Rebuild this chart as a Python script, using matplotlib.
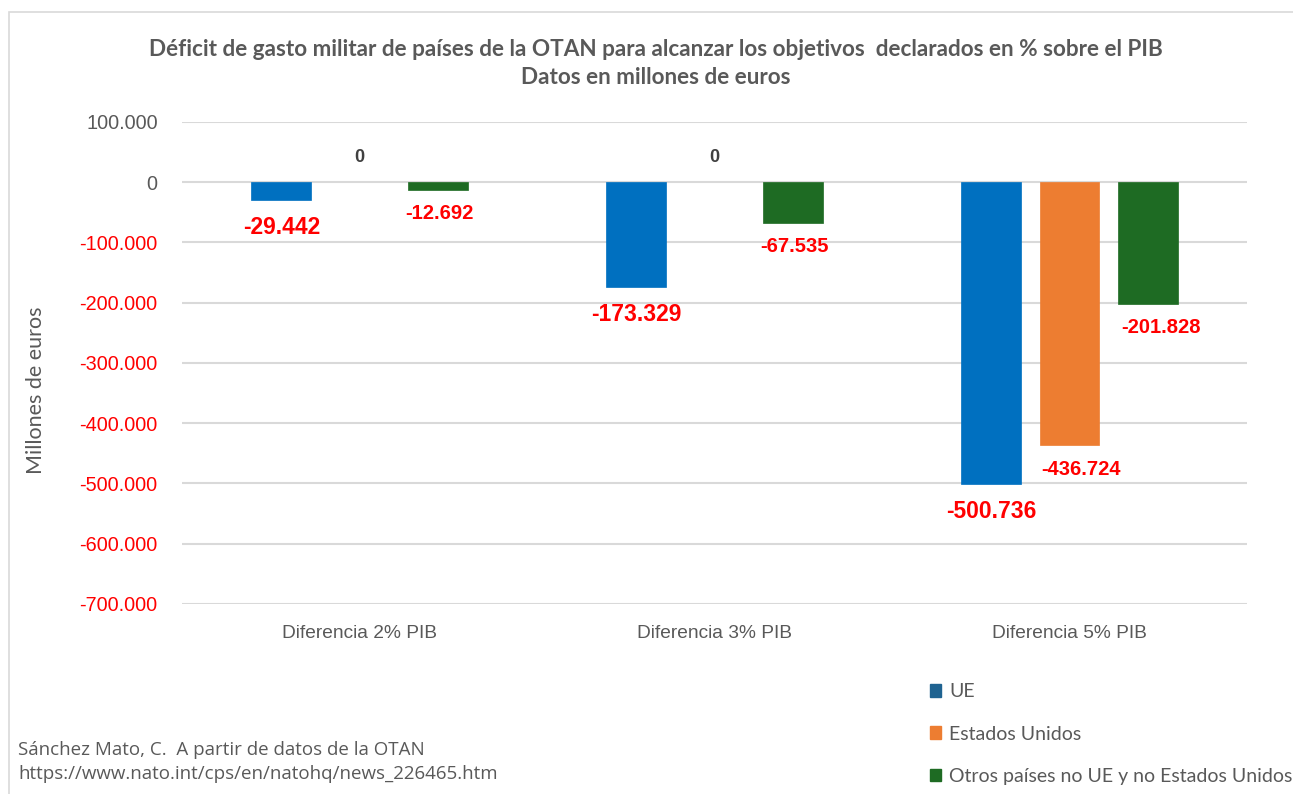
import matplotlib
matplotlib.use("Agg")
import matplotlib.pyplot as plt
from matplotlib.patches import Patch, Rectangle
from matplotlib.ticker import FuncFormatter
import numpy as np

categories = ["Diferencia 2% PIB", "Diferencia 3% PIB", "Diferencia 5% PIB"]
series_names = ["UE", "Estados Unidos", "Otros países no UE y no Estados Unidos"]
ue = [-29442, -173329, -500736]
usa = [0, 0, -436724]
otros = [-12692, -67535, -201828]
yticks = [100000, 0, -100000, -200000, -300000, -400000, -500000, -600000, -700000]

bar_colors = ["#0070C0", "#ED7D31", "#1E6B23"]
legend_colors = ["#1F6391", "#ED7D31", "#1E6B23"]
GRAY = "#595959"
RED = "#FF0000"

W, H = 1293, 794
fig = plt.figure(figsize=(W / 100, H / 100), dpi=100)
fig.patch.set_facecolor("white")

# chart-area border
fig.add_artist(Rectangle((9 / W, -0.05), 1.2, 1 - 12 / H + 0.05, transform=fig.transFigure,
                         fill=False, edgecolor="#D9D9D9", linewidth=1.2))

ax = fig.add_axes([182 / W, 1 - 604 / H, (1247 - 182) / W, (604 - 122) / H])
x = np.arange(len(categories))
bw = 0.169
off = 0.22
data = [ue, usa, otros]
for i, (vals, c) in enumerate(zip(data, bar_colors)):
    lw = [0.5 if v != 0 else 0 for v in vals]
    ax.bar(x + (i - 1) * off, vals, bw, color=c, zorder=3, edgecolor=c, linewidth=lw)

ax.set_xlim(-0.5, 2.5)
ax.set_ylim(-700000, 100000)
ax.set_yticks(yticks)


def fmt(v, pos=None):
    s = f"{abs(int(round(v))):,}".replace(",", ".")
    return ("-" if v < 0 else "") + s


ax.yaxis.set_major_formatter(FuncFormatter(fmt))
ax.grid(axis="y", color="#D9D9D9", linewidth=1.5, zorder=0)
ax.set_axisbelow(True)
for s in ax.spines.values():
    s.set_visible(False)
ax.tick_params(axis="both", length=0)
ax.tick_params(axis="y", pad=17.5)
ax.tick_params(axis="x", pad=15)
ax.set_xticks(x)
ax.set_xticklabels(categories, fontsize=13.8, color=GRAY, family="Liberation Sans")
for lab, v in zip(ax.get_yticklabels(), yticks):
    lab.set_fontsize(14.3)
    lab.set_family("Liberation Sans")
    lab.set_color(RED if v < 0 else GRAY)

ax.set_ylabel("Millones de euros", fontsize=15.5, color=GRAY, family="Lato")
ax.yaxis.set_label_coords((46 - 182) / (1247 - 182), 1 - (390 - 122) / (604 - 122))

# data labels
nudge = {(1, 2): 12, (2, 2): 13, (2, 0): 2, (2, 1): 2}
for i, vals in enumerate(data):
    for j, v in enumerate(vals):
        xp = x[j] + (i - 1) * off
        dx = nudge.get((i, j), 0) * 0.72
        if v == 0:
            ax.annotate("0", (xp, 0), xytext=(0, 25 * 0.72), textcoords="offset points",
                        ha="center", va="center", fontsize=13, fontweight="bold",
                        color="#404040", family="Liberation Sans")
        elif i == 0:
            ax.annotate(fmt(v), (xp, v), xytext=(dx, -28 * 0.72), textcoords="offset points",
                        ha="center", va="center", fontsize=16.5, fontweight="bold",
                        color=RED, family="Liberation Sans")
        else:
            ax.annotate(fmt(v), (xp, v), xytext=(dx, -24 * 0.72), textcoords="offset points",
                        ha="center", va="center", fontsize=14.5, fontweight="bold",
                        color=RED, family="Liberation Sans")

# title
fig.text(656 / W, 1 - 50 / H, "Déficit de gasto militar de países de la OTAN para alcanzar los objetivos  declarados en % sobre el PIB",
         ha="center", va="center", fontsize=16.2, fontweight="bold", color=GRAY, family="Lato")
fig.text(656 / W, 1 - 78 / H, "Datos en millones de euros",
         ha="center", va="center", fontsize=16.2, fontweight="bold", color=GRAY, family="Lato")

# legend
handles = [Patch(facecolor=c, edgecolor=c) for c in legend_colors]
fig.legend(handles, series_names, loc="center left", bbox_to_anchor=(912 / W, 1 - 734 / H),
           frameon=False, handlelength=0.6, handleheight=0.6, handletextpad=0.4,
           labelspacing=1.3, prop={"family": "Lato", "size": 14}, labelcolor=GRAY)

# source
fig.text(18 / W, 1 - 750 / H, "Sánchez Mato, C.  A partir de datos de la OTAN",
         ha="left", va="center", fontsize=13.5, color=GRAY, family="Open Sans")
fig.text(18 / W, 1 - 774 / H, "https://www.nato.int/cps/en/natohq/news_226465.htm",
         ha="left", va="center", fontsize=13.5, color=GRAY, family="Open Sans")

fig.savefig("out.png", dpi=100)
